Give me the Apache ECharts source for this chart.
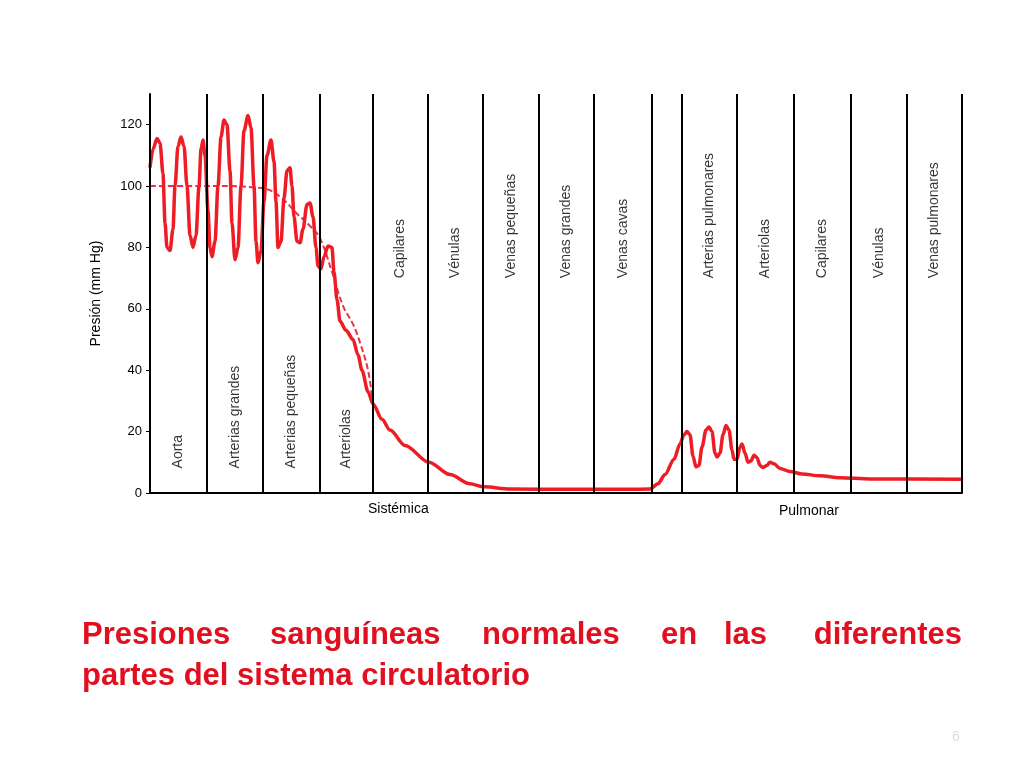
<!DOCTYPE html>
<html>
<head>
<meta charset="utf-8">
<script src="https://cdn.jsdelivr.net/npm/echarts@6/dist/echarts.min.js"></script>
<style>
html,body{margin:0;padding:0;background:#fff;}
#container{width:1024px;height:768px;}
</style>
</head>
<body>
<div id="container"></div>
<script>
// x en unidades del trazado (0 = aorta, 812 = fin de venas pulmonares)
var boundaries = [0, 57, 113, 170, 223, 278, 333, 389, 444, 502, 532, 587, 644, 701, 757, 812];
var segNames = ['Aorta', 'Arterias grandes', 'Arterias pequeñas', 'Arteriolas', 'Capilares', 'Vénulas',
	'Venas pequeñas', 'Venas grandes', 'Venas cavas', '', 'Arterias pulmonares', 'Arteriolas', 'Capilares',
	'Vénulas', 'Venas pulmonares'];
var labelBase = [8, 8, 8, 8, 70, 70, 70, 70, 70, 70, 70, 70, 70, 70, 70];
var pressure = [
	[0,106],[3,112],[7,115.5],[10,114],[13,104],[15,88],[17,80],[20,79],[23,86],[25,100],[28,113],[31,116],[34,113],
	[37,100],[40,84],[43,80],[46,84],[49,100],[51,112],[53,115],[55,110],[58,92],[60,80],[62,77],[65,82],
	[68,100],[71,116],[74,121.5],[77,120],[80,105],[82,88],[85,76],[88,80],[91,100],[94,118],[98,123],
	[101,119],[104,100],[106,82],[108,75],[111,79],[114,95],[117,110],[121,115],[124,108],[126,95],
	[128,80],[131,82],[134,96],[137,105],[140,106],[142,100],[144,90],[147,82],[150,81.5],[153,86],
	[157,94],[160,94.5],[163,90],[166,80],[168,74],[171,73],[174,77],[178,80.5],[182,80],[184,72],
	[187,63],[190,56],[196,53],[203,50],[208,45],[212,40],[218,33],[223,29],[232,24],[240,20.5],
	[255,15.5],[279,10],[300,6],[320,3],[334,2],[360,1.3],[420,1.2],[480,1.2],[500,1.3],[508,3],
	[515,6],[524,11],[530,16],[534,19],[537,20],[540,19],[543,12],[546,8.5],[549,9],[552,15],[556,20.5],
	[559,21.5],[562,20],[565,13],[567,11.7],[570,13],[573,19],[576,22],[579,20.5],[582,14],[584,11],
	[587,11],[590,15],[592,16],[595,13],[598,10],[601,10.5],[604,12.3],[607,11.5],[610,9],[613,8.3],
	[617,9],[620,10],[624,9.5],[630,8],[640,7],[652,6.2],[670,5.6],[690,5],[720,4.6],[812,4.5]
];
var meanPressure = [
	[0,100],[40,100],[80,100],[105,99.5],[117,99],[132,96],[147,91],[160,87],[170,83],
	[182,72],[193,61],[203,55],[210,49],[218,40],[223,29]
];
var yTicks = [0, 20, 40, 60, 80, 100, 120];

var labelData = [];
for (var j = 0; j < segNames.length; j++) {
	labelData.push({ value: [(boundaries[j] + boundaries[j + 1]) / 2, labelBase[j]], name: segNames[j] });
}
var lineData = [];
for (var k = 0; k < boundaries.length; k++) {
	lineData.push({ xAxis: boundaries[k] });
}

var myChart = echarts.init(document.getElementById('container'));
var option = {
	animation: false,
	grid: { left: 150, right: 62, top: 94, bottom: 275 },
	xAxis: {
		type: 'value', min: 0, max: 812,
		axisLine: { lineStyle: { color: '#000', width: 2 } },
		axisTick: { show: false }, axisLabel: { show: false }, splitLine: { show: false }
	},
	yAxis: {
		type: 'value', min: 0, max: 130, interval: 10,
		axisLine: { show: true, lineStyle: { color: '#000', width: 2 } },
		axisTick: { show: true, length: 4, customValues: yTicks, lineStyle: { color: '#000' } },
		axisLabel: { customValues: yTicks, color: '#000', fontSize: 13, fontFamily: 'Liberation Sans', margin: 8 },
		splitLine: { show: false },
		name: 'Presión (mm Hg)', nameLocation: 'middle', nameGap: 47, nameRotate: 90,
		nameTextStyle: { color: '#000', fontSize: 14, fontFamily: 'Liberation Sans' }
	},
	series: [
		{
			type: 'line', data: meanPressure, symbol: 'none', smooth: 0.4, z: 3,
			lineStyle: { color: '#e8344a', width: 2, type: [6, 3] }
		},
		{
			type: 'line', data: pressure, symbol: 'none', smooth: 0.3, smoothMonotone: 'x', z: 4,
			lineStyle: { color: '#ee1c25', width: 3.5 },
			markLine: {
				silent: true, symbol: 'none', label: { show: false },
				lineStyle: { color: '#000', width: 2, type: 'solid' },
				data: lineData
			}
		},
		{
			type: 'scatter', data: labelData, symbolSize: 0, z: 5,
			label: {
				show: true, formatter: '{b}', rotate: 90, align: 'left', verticalAlign: 'middle',
				position: 'inside', color: '#000', fontSize: 14, fontFamily: 'Liberation Sans'
			}
		}
	],
	graphic: [
		{ type: 'text', left: 368, top: 502, style: { text: 'Sistémica', fontSize: 14, fontFamily: 'Liberation Sans', fill: '#000' } },
		{ type: 'text', left: 779, top: 504, style: { text: 'Pulmonar', fontSize: 14, fontFamily: 'Liberation Sans', fill: '#000' } },
		{ type: 'text', left: 82, top: 620, style: { text: 'Presiones', fontSize: 31, fontWeight: 'bold', fontFamily: 'Liberation Sans', fill: '#e01020' } },
		{ type: 'text', left: 270, top: 620, style: { text: 'sanguíneas', fontSize: 31, fontWeight: 'bold', fontFamily: 'Liberation Sans', fill: '#e01020' } },
		{ type: 'text', left: 482, top: 620, style: { text: 'normales', fontSize: 31, fontWeight: 'bold', fontFamily: 'Liberation Sans', fill: '#e01020' } },
		{ type: 'text', left: 661, top: 620, style: { text: 'en', fontSize: 31, fontWeight: 'bold', fontFamily: 'Liberation Sans', fill: '#e01020' } },
		{ type: 'text', left: 724, top: 620, style: { text: 'las', fontSize: 31, fontWeight: 'bold', fontFamily: 'Liberation Sans', fill: '#e01020' } },
		{ type: 'text', right: 62, top: 620, style: { text: 'diferentes', fontSize: 31, fontWeight: 'bold', fontFamily: 'Liberation Sans', fill: '#e01020' } },
		{ type: 'text', left: 82, top: 661, style: { text: 'partes del sistema circulatorio', fontSize: 31, fontWeight: 'bold', fontFamily: 'Liberation Sans', fill: '#e01020' } },
		{ type: 'text', left: 952, top: 730, style: { text: '6', fontSize: 14, fontFamily: 'Liberation Sans', fill: '#ddd' } }
	]
};
myChart.setOption(option, true);
</script>
</body>
</html>
